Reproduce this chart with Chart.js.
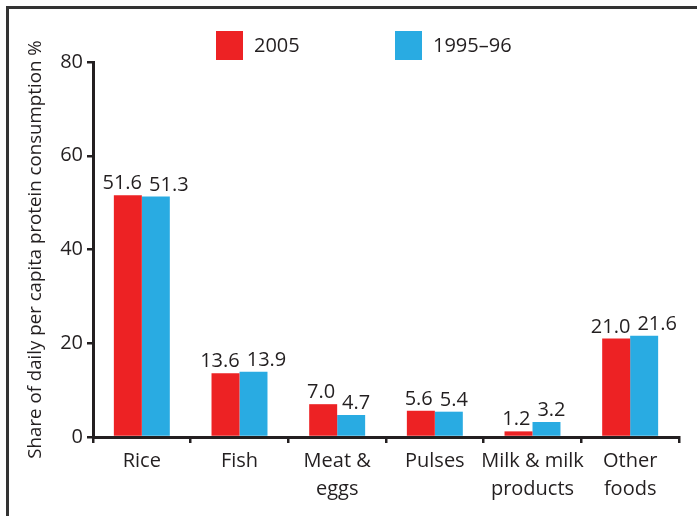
<!DOCTYPE html>
<html>
<head>
<meta charset="utf-8">
<title>Protein consumption</title>
<script src="https://cdn.jsdelivr.net/npm/chart.js@4"></script>
<style>
  html, body { margin: 0; padding: 0; background: #fff; }
  canvas { display: block; }
</style>
</head>
<body>
<canvas id="chart" width="697" height="516"></canvas>
<script>
// data
const categories = [['Rice'], ['Fish'], ['Meat &', 'eggs'], ['Pulses'], ['Milk & milk', 'products'], ['Other', 'foods']];
const values2005 = [51.6, 13.6, 7.0, 5.6, 1.2, 21.0];
const values1995 = [51.3, 13.9, 4.7, 5.4, 3.2, 21.6];
const seriesNames = ['2005', '1995\u201396'];
const yTicks = [0, 20, 40, 60, 80];
const yTitle = 'Share of daily per capita protein consumption %';

const RED = '#ED2224';
const BLUE = '#29ABE2';
const INK = '#231F20';
const FONT = '"Open Sans", "DejaVu Sans", sans-serif';

// frame round the figure (top and left edges only, like the scan)
const framePlugin = {
  id: 'frame',
  beforeDraw(chart) {
    const c = chart.ctx;
    c.save();
    c.fillStyle = '#fff';
    c.fillRect(0, 0, chart.width, chart.height);
    c.fillStyle = '#333';
    c.fillRect(6, 6, chart.width - 6, 3);
    c.fillRect(6, 6, 3, chart.height - 6);
    c.restore();
  }
};

// value labels above the bars, pushed apart when they would collide
const valueLabels = {
  id: 'valueLabels',
  afterDatasetsDraw(chart) {
    const c = chart.ctx;
    const m0 = chart.getDatasetMeta(0), m1 = chart.getDatasetMeta(1);
    c.save();
    c.font = '20px ' + FONT;
    c.fillStyle = INK;
    c.textAlign = 'center';
    c.textBaseline = 'alphabetic';
    for (let i = 0; i < categories.length; i++) {
      const a = m0.data[i], b = m1.data[i];
      const ta = values2005[i].toFixed(1), tb = values1995[i].toFixed(1);
      const wa = c.measureText(ta).width, wb = c.measureText(tb).width;
      let xa = a.x, xb = b.x;
      const need = (wa + wb) / 2 + 7 - (xb - xa);
      if (need > 0) {
        xa -= need * 0.3;
        xb += need * 0.7;
      }
      c.fillText(ta, xa, a.y - 6);
      c.fillText(tb, xb, b.y - 6);
    }
    c.restore();
  }
};

// legend drawn by hand so the two keys sit apart as in the figure
const keyLegend = {
  id: 'keyLegend',
  afterDraw(chart) {
    const c = chart.ctx;
    const xs = [216, 395];
    c.save();
    c.font = '20px ' + FONT;
    c.textBaseline = 'middle';
    c.textAlign = 'left';
    chart.data.datasets.forEach((ds, i) => {
      c.fillStyle = ds.backgroundColor;
      c.fillRect(xs[i], 31, 27, 29);
      c.fillStyle = INK;
      c.fillText(ds.label, xs[i] + 38, 46);
    });
    c.restore();
  }
};

const ctx = document.getElementById('chart');
const chart = new Chart(ctx, {
  type: 'bar',
  data: {
    labels: categories,
    datasets: [
      { label: seriesNames[0], data: values2005, backgroundColor: RED },
      { label: seriesNames[1], data: values1995, backgroundColor: BLUE }
    ]
  },
  options: {
    responsive: false,
    animation: false,
    barPercentage: 1,
    categoryPercentage: 0.573,
    layout: { padding: { top: 62, right: 18, bottom: 0, left: 0 } },
    plugins: {
      legend: { display: false },
      tooltip: { enabled: false }
    },
    scales: {
      x: {
        grid: { drawOnChartArea: false, drawTicks: true, tickLength: 6, color: INK, lineWidth: 2.5, offset: true },
        border: { color: INK, width: 3 },
        ticks: {
          color: INK,
          font: { family: FONT, size: 20, lineHeight: 1.4 },
          padding: 4,
          maxRotation: 0,
          autoSkip: false
        },
        afterFit(scale) { scale.height = 79; }
      },
      y: {
        min: yTicks[0],
        max: yTicks[yTicks.length - 1],
        afterBuildTicks(scale) { scale.ticks = yTicks.map(v => ({ value: v })); },
        grid: { drawOnChartArea: false, drawTicks: true, tickLength: 6, color: INK, lineWidth: 2.5 },
        border: { color: INK, width: 3 },
        ticks: { color: INK, font: { family: FONT, size: 20 }, padding: 4 },
        title: {
          display: true,
          text: yTitle,
          color: INK,
          font: { family: FONT, size: 18.7 },
          padding: { top: 24, bottom: 0 }
        },
        afterFit(scale) { scale.width = 93; }
      }
    }
  },
  plugins: [framePlugin, valueLabels, keyLegend]
});
</script>
</body>
</html>
